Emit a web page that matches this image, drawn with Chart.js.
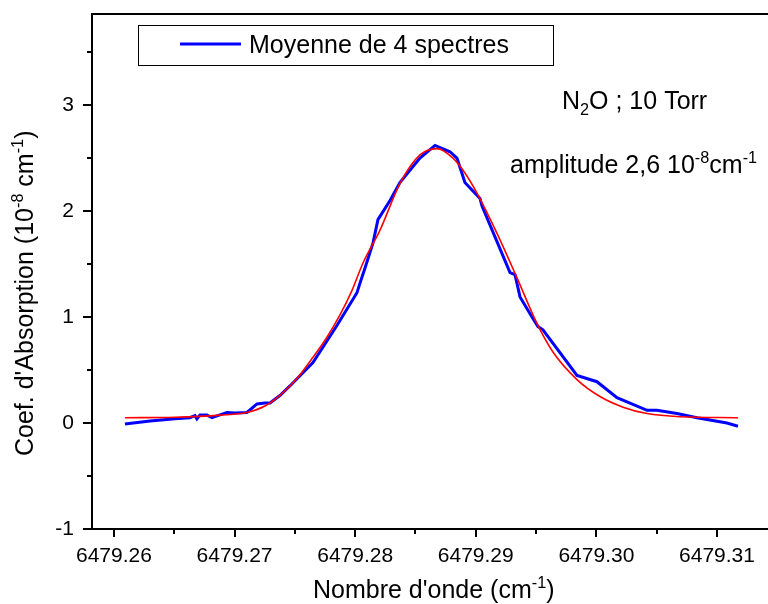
<!DOCTYPE html>
<html>
<head>
<meta charset="utf-8">
<script src="https://cdn.jsdelivr.net/npm/chart.js@4"></script>
<style>
  body { margin: 0; background: #fff; overflow: hidden; }
  #wrap { width: 768px; height: 604px; }
</style>
</head>
<body>
<div id="wrap"><canvas id="spectreChartCanvas"></canvas></div>
<script>
// moyenne de 4 spectres
const waveNumbers = [6479.26091, 6479.26299, 6479.26506, 6479.2663, 6479.26672, 6479.26688, 6479.26713, 6479.26771,
    6479.26813, 6479.26937, 6479.27003, 6479.27103, 6479.27186, 6479.27252, 6479.27294, 6479.27376, 6479.27459,
    6479.2765, 6479.27849, 6479.28015, 6479.2804, 6479.28081, 6479.28148, 6479.28189, 6479.28289, 6479.28371,
    6479.28537, 6479.28662, 6479.28786, 6479.28844, 6479.2891, 6479.29035, 6479.29051, 6479.29284, 6479.29325,
    6479.29367, 6479.29466, 6479.29516, 6479.29557, 6479.29839, 6479.30005, 6479.30171, 6479.3042, 6479.30502,
    6479.30668, 6479.30834, 6479.31083, 6479.31174];
const meanAbsorption = [-0.01, 0.02, 0.04, 0.05, 0.07, 0.04, 0.075, 0.075,
    0.05, 0.10, 0.095, 0.10, 0.18, 0.19, 0.19, 0.26, 0.35,
    0.57, 0.92, 1.23, 1.32, 1.46, 1.70, 1.92, 2.10, 2.27,
    2.50, 2.62, 2.56, 2.50, 2.27, 2.12, 2.05, 1.42, 1.40,
    1.19, 1.00, 0.91, 0.88, 0.45, 0.39, 0.24, 0.12, 0.12,
    0.09, 0.05, 0.00, -0.03];

// ajustement (courbe rouge)
const fitWaveNumbers = [6479.26091, 6479.26506, 6479.26879, 6479.27103, 6479.27252, 6479.27376, 6479.27517,
    6479.2765, 6479.27766, 6479.27874, 6479.27973, 6479.28065, 6479.28206, 6479.28371, 6479.28537, 6479.28678,
    6479.28811, 6479.2891, 6479.2901, 6479.29176, 6479.29342, 6479.29507, 6479.2964, 6479.29839, 6479.3003,
    6479.30221, 6479.3042, 6479.30693, 6479.31174];
const fitAbsorption = [0.05, 0.055, 0.075, 0.10, 0.16, 0.26, 0.42,
    0.62, 0.81, 1.02, 1.25, 1.51, 1.82, 2.26, 2.53, 2.59,
    2.50, 2.36, 2.17, 1.79, 1.37, 0.94, 0.67, 0.41, 0.25,
    0.15, 0.09, 0.06, 0.05];

const xTicks = [6479.26, 6479.27, 6479.28, 6479.29, 6479.30, 6479.31];
const xMinorTicks = [6479.265, 6479.275, 6479.285, 6479.295, 6479.305];
const yTicks = [-1, 0, 1, 2, 3];
const yMinorTicks = [-0.5, 0.5, 1.5, 2.5, 3.5];

const FONT = '"Liberation Sans", Arial, sans-serif';

// texte avec exposants / indices
function drawRich(ctx, parts, x, y, size) {
    let cx = x;
    for (const p of parts) {
        let fs = size, dy = 0;
        if (p.sup) { fs = size * 0.65; dy = -size * 0.42; }
        if (p.sub) { fs = size * 0.65; dy = size * 0.25; }
        ctx.font = fs + 'px ' + FONT;
        ctx.fillText(p.t, cx, y + dy);
        cx += ctx.measureText(p.t).width;
    }
}

const decorations = {
    id: 'decorations',
    afterDraw(chart) {
        const ctx = chart.ctx;
        const area = chart.chartArea;
        const xs = chart.scales.x, ys = chart.scales.y;
        ctx.save();
        ctx.strokeStyle = '#000';
        ctx.lineWidth = 2;

        // cadre du haut
        ctx.beginPath();
        ctx.moveTo(area.left - 1, area.top);
        ctx.lineTo(area.right, area.top);
        ctx.stroke();

        // graduations
        ctx.beginPath();
        xTicks.forEach(v => { const p = Math.round(xs.getPixelForValue(v)); ctx.moveTo(p, area.bottom); ctx.lineTo(p, area.bottom + 8); });
        xMinorTicks.forEach(v => { const p = Math.round(xs.getPixelForValue(v)); ctx.moveTo(p, area.bottom); ctx.lineTo(p, area.bottom + 5); });
        yTicks.forEach(v => { const p = Math.round(ys.getPixelForValue(v)); ctx.moveTo(area.left, p); ctx.lineTo(area.left - 9, p); });
        yMinorTicks.forEach(v => { const p = Math.round(ys.getPixelForValue(v)); ctx.moveTo(area.left, p); ctx.lineTo(area.left - 5, p); });
        ctx.stroke();

        // legende
        ctx.lineWidth = 1;
        ctx.strokeRect(138.5, 25.5, 415, 40);
        ctx.strokeStyle = '#0000ff';
        ctx.lineWidth = 3;
        ctx.beginPath();
        ctx.moveTo(180, 44);
        ctx.lineTo(241, 44);
        ctx.stroke();

        ctx.fillStyle = '#000';
        ctx.textAlign = 'left';
        ctx.textBaseline = 'alphabetic';
        drawRich(ctx, [{t: 'Moyenne de 4 spectres'}], 249, 53, 25);

        // annotations
        drawRich(ctx, [{t: 'N'}, {t: '2', sub: true}, {t: 'O ; 10 Torr'}], 562, 109, 25);
        drawRich(ctx, [{t: 'amplitude 2,6 10'}, {t: '-8', sup: true}, {t: 'cm'}, {t: '-1', sup: true}], 510, 173, 25);

        // titres des axes
        drawRich(ctx, [{t: "Nombre d'onde (cm"}, {t: '-1', sup: true}, {t: ')'}], 313, 598, 25);

        ctx.translate(33, 456);
        ctx.rotate(-Math.PI / 2);
        drawRich(ctx, [{t: "Coef. d'Absorption (10"}, {t: '-8', sup: true}, {t: ' cm'}, {t: '-1', sup: true}, {t: ')'}], 0, 0, 25);
        ctx.restore();
    }
};

const spectreChart = new Chart(document.getElementById('spectreChartCanvas'), {
    type: 'scatter',
    data: {
        datasets: [
            {
                label: 'Ajustement',
                data: fitWaveNumbers.map((x, i) => ({x: x, y: fitAbsorption[i]})),
                showLine: true,
                borderColor: '#ff0000',
                borderWidth: 1.6,
                pointRadius: 0,
                cubicInterpolationMode: 'monotone',
                order: 0
            },
            {
                label: 'Moyenne de 4 spectres',
                data: waveNumbers.map((x, i) => ({x: x, y: meanAbsorption[i]})),
                showLine: true,
                borderColor: '#0000ff',
                borderWidth: 3,
                pointRadius: 0,
                tension: 0,
                order: 1
            }
        ]
    },
    options: {
        responsive: true,
        maintainAspectRatio: false,
        animation: false,
        layout: { padding: { top: 14, right: 0, left: 0, bottom: 0 } },
        plugins: {
            legend: { display: false },
            tooltip: { enabled: false }
        },
        scales: {
            x: {
                type: 'linear',
                min: 6479.25818,
                max: 6479.31423,
                afterFit(scale) {
                    scale.height = 75;
                    scale.paddingLeft = 0;
                    scale.paddingRight = 0;
                },
                afterBuildTicks(scale) { scale.ticks = xTicks.map(v => ({value: v})); },
                ticks: {
                    color: '#000',
                    font: { family: FONT, size: 21 },
                    padding: 7,
                    maxRotation: 0,
                    autoSkip: false,
                    callback: v => v.toFixed(2)
                },
                grid: { display: false },
                border: { display: true, color: '#000', width: 2 }
            },
            y: {
                min: -1,
                max: 3.86,
                afterFit(scale) {
                    scale.width = 92;
                    scale.paddingTop = 0;
                    scale.paddingBottom = 0;
                },
                afterBuildTicks(scale) { scale.ticks = yTicks.map(v => ({value: v})); },
                ticks: {
                    color: '#000',
                    font: { family: FONT, size: 21 },
                    padding: 10,
                    callback: v => String(v)
                },
                grid: { display: false },
                border: { display: true, color: '#000', width: 2 }
            }
        }
    },
    plugins: [decorations]
});
</script>
</body>
</html>
